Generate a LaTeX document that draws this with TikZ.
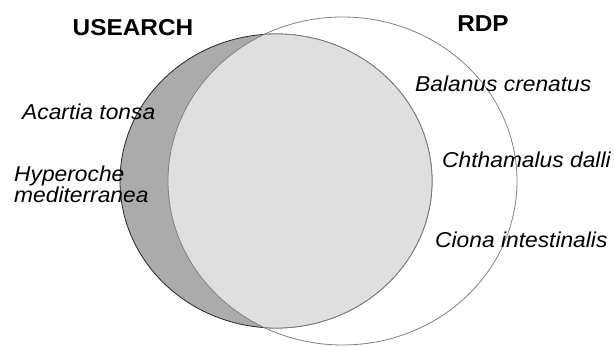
\documentclass[tikz,border=0pt]{standalone}
\usepackage{fontspec}
\setmainfont{Liberation Sans}[FakeStretch=1.06]
\definecolor{usearchgray}{gray}{0.67}
\definecolor{sharedgray}{gray}{0.875}
\definecolor{rimgray}{gray}{0.5}
\tikzstyle{setname} = [font=\fontsize{23}{26}\selectfont\bfseries, inner sep=0, anchor=base]
\tikzstyle{species} = [font=\fontsize{21.5}{21}\selectfont\itshape, inner sep=0, anchor=base west, align=left]
\tikzstyle{usearchset} = [fill=usearchgray, draw=black!85, line width=0.8pt]
\tikzstyle{rdpset} = [draw=rimgray, line width=0.8pt]

\begin{document}
\begin{tikzpicture}[x=1pt, y=-1pt]
\useasboundingbox (0,0) rectangle (614,347);

% the two sets
\path[usearchset] (276,181) ellipse [x radius=156, y radius=147];
\begin{scope}
\clip (342.5,181) ellipse [x radius=174.5, y radius=164];
\path[fill=sharedgray, draw=rimgray, line width=0.8pt] (276,181) ellipse [x radius=156, y radius=147];
\end{scope}
\path[rdpset] (342.5,181) ellipse [x radius=174.5, y radius=164];

\node (usearch) [setname] at (133,36) {USEARCH};
\node (rdp) [setname] at (483,32) {RDP};

\node (acartia) [species] at (22,120) {Acartia tonsa};
\node (hyperoche) [species] at (14,203) {Hyperoche\\mediterranea};

\node (balanus) [species] at (415,92) {Balanus crenatus};
\node (chthamalus) [species] at (442,168) {Chthamalus dalli};
\node (ciona) [species] at (435,248) {Ciona intestinalis};
\end{tikzpicture}
\end{document}
